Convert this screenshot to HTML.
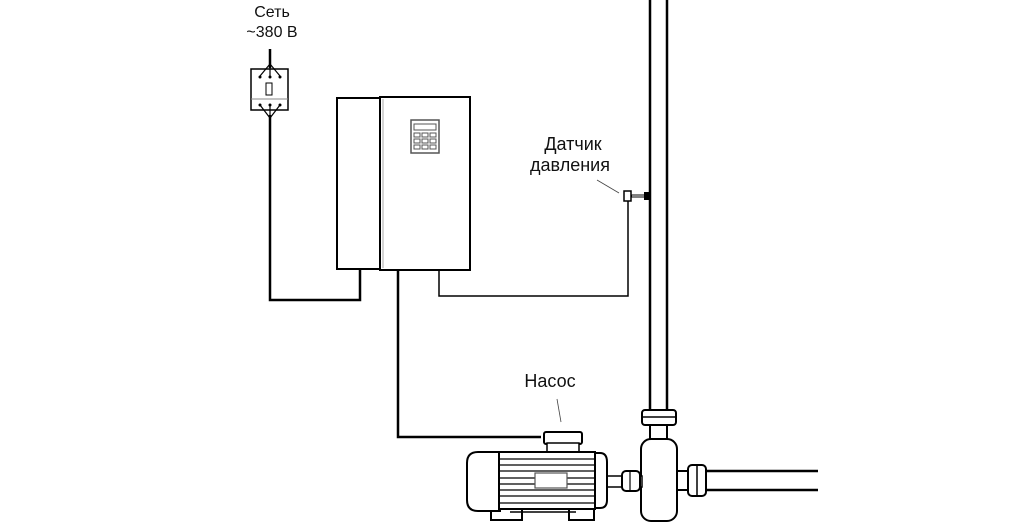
<!DOCTYPE html>
<html><head><meta charset="utf-8"><style>
html,body{margin:0;padding:0;background:#fff;}
svg{display:block;}
text{font-family:"Liberation Sans",sans-serif;font-size:18px;fill:#111;}
</style></head><body>
<svg width="1024" height="530" viewBox="0 0 1024 530" xmlns="http://www.w3.org/2000/svg">
<rect width="1024" height="530" fill="#fff"/>
<text x="272" y="17" text-anchor="middle" style="font-size:16px">Сеть</text>
<text x="272" y="37" text-anchor="middle" style="font-size:16px">~380 В</text>
<!-- breaker -->
<line x1="270" y1="49" x2="270" y2="68" stroke="#000" stroke-width="2.5"/>
<rect x="251" y="69" width="37" height="41" fill="#fff" stroke="#000" stroke-width="1.5"/>
<line x1="251" y1="99" x2="288" y2="99" stroke="#888" stroke-width="1"/>
<rect x="266" y="83" width="6" height="12" fill="#fff" stroke="#000" stroke-width="1"/>
<path d="M270 64 L260 76 M270 64 L270 76 M270 64 L280 76" stroke="#000" stroke-width="1.2" fill="none"/>
<path d="M270 118 L260 105 M270 118 L270 105 M270 118 L280 105" stroke="#000" stroke-width="1.2" fill="none"/>
<circle cx="260" cy="77" r="1.5"/><circle cx="270" cy="77" r="1.5"/><circle cx="280" cy="77" r="1.5"/>
<circle cx="260" cy="105" r="1.5"/><circle cx="270" cy="105" r="1.5"/><circle cx="280" cy="105" r="1.5"/>
<!-- wires -->
<polyline points="270,115 270,300 360,300 360,270" fill="none" stroke="#000" stroke-width="2.5"/>
<polyline points="398,270 398,437 541,437" fill="none" stroke="#000" stroke-width="2.5"/>
<polyline points="439,270 439,296 628,296 628,201" fill="none" stroke="#000" stroke-width="1.5"/>
<!-- inverter -->
<rect x="337" y="98" width="43" height="171" fill="#fff" stroke="#000" stroke-width="2"/>
<rect x="380" y="97" width="90" height="173" fill="#fff" stroke="#000" stroke-width="2"/>
<line x1="383" y1="99" x2="383" y2="268" stroke="#aaa" stroke-width="1"/>
<rect x="411" y="120" width="28" height="33" fill="#fff" stroke="#555" stroke-width="1.5"/>
<rect x="414" y="124" width="22" height="6" fill="#fff" stroke="#555" stroke-width="1"/>
<g fill="none" stroke="#555" stroke-width="1"><rect x="414" y="133" width="6" height="4"/><rect x="422" y="133" width="6" height="4"/><rect x="430" y="133" width="6" height="4"/><rect x="414" y="139" width="6" height="4"/><rect x="422" y="139" width="6" height="4"/><rect x="430" y="139" width="6" height="4"/><rect x="414" y="145" width="6" height="4"/><rect x="422" y="145" width="6" height="4"/><rect x="430" y="145" width="6" height="4"/></g>
<!-- sensor -->
<text x="573" y="150" text-anchor="middle">Датчик</text>
<text x="570" y="171" text-anchor="middle">давления</text>
<line x1="597" y1="180" x2="619" y2="193" stroke="#444" stroke-width="0.8"/>
<rect x="624" y="191" width="7" height="10" fill="#fff" stroke="#000" stroke-width="1.5"/>
<line x1="631" y1="196" x2="646" y2="196" stroke="#000" stroke-width="3"/>
<line x1="632" y1="196" x2="646" y2="196" stroke="#fff" stroke-width="1"/>
<rect x="644" y="192" width="5" height="8" fill="#000"/>
<!-- vertical pipe -->
<line x1="650" y1="0" x2="650" y2="411" stroke="#000" stroke-width="2.5"/>
<line x1="667" y1="0" x2="667" y2="411" stroke="#000" stroke-width="2.5"/>
<!-- pipe flange & neck -->
<rect x="642" y="410" width="34" height="15" rx="3" fill="#fff" stroke="#000" stroke-width="2"/>
<line x1="642" y1="417" x2="676" y2="417" stroke="#000" stroke-width="1.5"/>
<rect x="650" y="425" width="17" height="15" fill="#fff" stroke="#000" stroke-width="2"/>
<!-- horizontal pipe -->
<line x1="706" y1="471" x2="818" y2="471" stroke="#000" stroke-width="2.5"/>
<line x1="706" y1="490" x2="818" y2="490" stroke="#000" stroke-width="2.5"/>
<rect x="676" y="471" width="13" height="19" fill="#fff" stroke="#000" stroke-width="2"/>
<rect x="688" y="465" width="18" height="31" rx="4" fill="#fff" stroke="#000" stroke-width="2"/>
<line x1="697" y1="466" x2="697" y2="495" stroke="#000" stroke-width="1.5"/>
<!-- pump housing -->
<rect x="641" y="439" width="36" height="82" rx="10" fill="#fff" stroke="#000" stroke-width="2"/>
<!-- shaft & coupling -->
<rect x="605" y="476" width="37" height="11" fill="#fff" stroke="#000" stroke-width="1.5"/>
<rect x="622" y="471" width="18" height="20" rx="4" fill="#fff" stroke="#000" stroke-width="2"/>
<line x1="630" y1="472" x2="630" y2="490" stroke="#000" stroke-width="1.2"/>
<!-- motor -->
<text x="550" y="387" text-anchor="middle">Насос</text>
<line x1="557" y1="399" x2="561" y2="422" stroke="#444" stroke-width="0.8"/>
<rect x="544" y="432" width="38" height="12" rx="2" fill="#fff" stroke="#000" stroke-width="2"/>
<rect x="547" y="443" width="32" height="9" fill="#fff" stroke="#000" stroke-width="1.5"/>
<rect x="491" y="504" width="31" height="16" fill="#fff" stroke="#000" stroke-width="2"/>
<rect x="569" y="504" width="25" height="16" fill="#fff" stroke="#000" stroke-width="2"/>
<line x1="510" y1="512" x2="576" y2="512" stroke="#000" stroke-width="1.5"/>
<path d="M478 452 H500 V511 H478 Q467 511 467 500 V463 Q467 452 478 452 Z" fill="#fff" stroke="#000" stroke-width="2"/>
<rect x="499" y="452" width="96" height="57" fill="#fff" stroke="#000" stroke-width="2"/>
<g stroke="#000" stroke-width="1.3">
<line x1="499" y1="459" x2="595" y2="459"/><line x1="499" y1="465" x2="595" y2="465"/><line x1="499" y1="471" x2="595" y2="471"/><line x1="499" y1="478" x2="595" y2="478"/><line x1="499" y1="484" x2="595" y2="484"/><line x1="499" y1="490" x2="595" y2="490"/><line x1="499" y1="496" x2="595" y2="496"/><line x1="499" y1="503" x2="595" y2="503"/>
</g>
<rect x="535" y="473" width="32" height="15" fill="#fff" stroke="#555" stroke-width="1.2"/>
<path d="M595 453 H600 Q607 453 607 462 V500 Q607 508 600 508 H595 Z" fill="#fff" stroke="#000" stroke-width="2"/>
</svg>
</body></html>
